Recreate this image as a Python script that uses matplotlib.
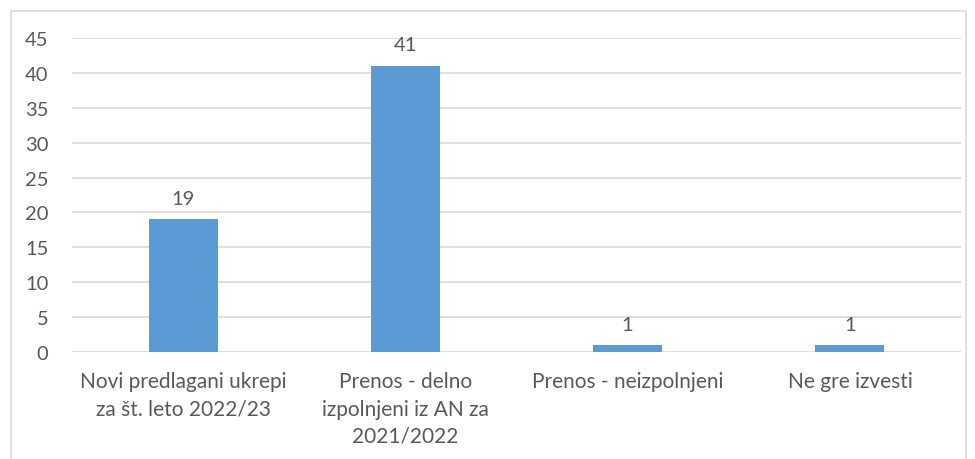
import matplotlib
matplotlib.use("Agg")
import matplotlib.pyplot as plt
from matplotlib.patches import Rectangle

categories = [
    "Novi predlagani ukrepi\nza št. leto 2022/23",
    "Prenos - delno\nizpolnjeni iz AN za\n2021/2022",
    "Prenos - neizpolnjeni",
    "Ne gre izvesti",
]
values = [19, 41, 1, 1]
yticks = [0, 5, 10, 15, 20, 25, 30, 35, 40, 45]

text_color = "#595959"
bar_color = "#5B9BD5"
grid_color = "#D9D9D9"

plt.rcParams["font.family"] = ["Lato", "DejaVu Sans"]

fig = plt.figure(figsize=(9.75, 4.6), dpi=100)
# light chart-area border, cut off at the bottom like the original screenshot
fig.patches.append(Rectangle((11 / 975, -0.05), 955 / 975, 1.05 - 12 / 460,
                             transform=fig.transFigure, fill=False,
                             edgecolor="#D9D9D9", linewidth=1.2))

ax = fig.add_axes([72 / 975, 107 / 460, 889 / 975, 314 / 460])
x = range(len(categories))
ax.bar(x, values, width=0.31, color=bar_color, zorder=3)

for xi, v in zip(x, values):
    ax.annotate(str(v), (xi, v), xytext=(0, 9), textcoords="offset points",
                ha="center", va="bottom", fontsize=14.5, color=text_color)

ax.set_xlim(-0.5, len(categories) - 0.5)
ax.set_ylim(0, 45)
ax.set_yticks(yticks)
ax.set_xticks(list(x))
ax.set_xticklabels(categories, fontsize=15, color=text_color, linespacing=1.45)
ax.tick_params(axis="y", labelsize=14.5, colors=text_color, length=0, pad=17)
ax.tick_params(axis="x", length=0, pad=14)
ax.grid(axis="y", color=grid_color, linewidth=1.2, zorder=0)
for s in ax.spines.values():
    s.set_visible(False)

fig.savefig("out.png", dpi=100)
